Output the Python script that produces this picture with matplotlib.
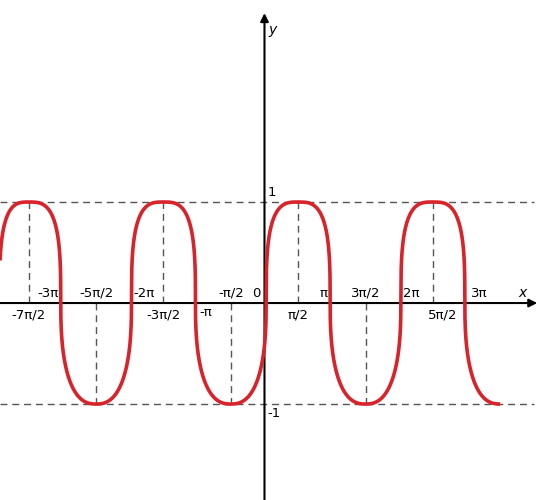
import numpy as np
import matplotlib.pyplot as plt

# curve knots (x in units of pi): zero crossings and
# extremes; between two knots the curve is a quarter of a superellipse
knot_x = [-3.935, -3.5, -3.025, -2.5, -1.975, -1.5, -1.025, -0.5,
          0.025, 0.5, 0.975, 1.5, 2.025, 2.5, 2.975, 3.5]
knot_y = [0, 1, 0, -1, 0, 1, 0, -1, 0, 1, 0, -1, 0, 1, 0, -1]
shape_peak = 3.2
shape_trough = 2.5

# dashed guide lines at peaks / troughs (units of pi)
peaks = [-3.5, -1.5, 0.5, 2.5]
troughs = [-2.5, -0.5, 1.5]

# tick labels: (position in units of pi, text, alignment)
labels_above = [(-3, '-3π', 'right'), (-2.5, '-5π/2', 'center'), (-2, '-2π', 'left'),
                (-0.5, '-π/2', 'center'), (0, '0', 'right'), (1, 'π', 'right'),
                (1.5, '3π/2', 'center'), (2, '2π', 'left'), (3, '3π', 'left')]
labels_below = [(-3.5, '-7π/2', 'center'), (-1.5, '-3π/2', 'center'),
                (0.5, 'π/2', 'center'), (2.5, '5π/2', 'left')]

red = '#d8232a'
grey = '#555555'
x_left = -3.927 * np.pi

fig = plt.figure(figsize=(5.52, 5.0), dpi=100)
ax = fig.add_axes([0, 0, 1, 1])
ax.set_xlim(x_left, 4.269 * np.pi)
ax.set_ylim(-1.95, 3.0)
ax.axis('off')

# dashed guide lines
for yv in (1, -1):
    ax.plot([x_left, 4.0 * np.pi], [yv, yv], color=grey, lw=1.0,
            dashes=(5, 3.5), zorder=1)
for p in peaks:
    ax.plot([p * np.pi, p * np.pi], [0, 1], color=grey, lw=1.0, dashes=(5, 3.5), zorder=1)
for t in troughs:
    ax.plot([t * np.pi, t * np.pi], [0, -1], color=grey, lw=1.0, dashes=(5, 3.5), zorder=1)

# axes with arrows
ax.annotate('', xy=(4.05 * np.pi, 0), xytext=(x_left, 0),
            arrowprops=dict(arrowstyle='-|>', color='black', lw=1.5,
                            mutation_scale=12, shrinkA=0, shrinkB=0), zorder=2)
ax.annotate('', xy=(0, 2.87), xytext=(0, -1.95),
            arrowprops=dict(arrowstyle='-|>', color='black', lw=1.5,
                            mutation_scale=12, shrinkA=0, shrinkB=0), zorder=2)

# the curve, built piece by piece between knots
xs_all, ys_all = [], []
for i in range(len(knot_x) - 1):
    x0, x1 = knot_x[i] * np.pi, knot_x[i + 1] * np.pi
    y0, y1 = knot_y[i], knot_y[i + 1]
    if y0 == 0:
        xc, xe, s = x0, x1, y1
    else:
        xc, xe, s = x1, x0, y0
    n = shape_peak if s > 0 else shape_trough
    xs = np.linspace(x0, x1, 300)
    u = np.clip(np.abs(xs - xe) / abs(xc - xe), 0, 1)
    ys = s * (1 - u ** n) ** (1 / n)
    xs_all.append(xs)
    ys_all.append(ys)
xs_all = np.concatenate(xs_all)
ys_all = np.concatenate(ys_all)
keep = xs_all >= x_left
ax.plot(xs_all[keep], ys_all[keep], color=red, lw=2.6, solid_capstyle='butt', zorder=3)

fs = 9.5
for pos, txt, ha in labels_above:
    off = {'left': 0.06, 'right': -0.06, 'center': 0.0}[ha]
    ax.text((pos + off) * np.pi, 0.03, txt, ha=ha, va='bottom', fontsize=fs)
for pos, txt, ha in labels_below:
    off = -0.07 if ha == 'left' else 0.0
    ax.text((pos + off) * np.pi, -0.05, txt, ha=ha, va='top', fontsize=fs)
ax.text(-0.97 * np.pi, -0.03, '-π', ha='left', va='top', fontsize=fs)

ax.text(0.05 * np.pi, 1.03, '1', ha='left', va='bottom', fontsize=fs)
ax.text(0.05 * np.pi, -1.03, '-1', ha='left', va='top', fontsize=fs)
ax.text(3.83 * np.pi, 0.03, 'x', ha='center', va='bottom', fontsize=10, style='italic')
ax.text(0.12 * np.pi, 2.7, 'y', ha='center', va='center', fontsize=10, style='italic')

fig.savefig('out.png', dpi=100)
